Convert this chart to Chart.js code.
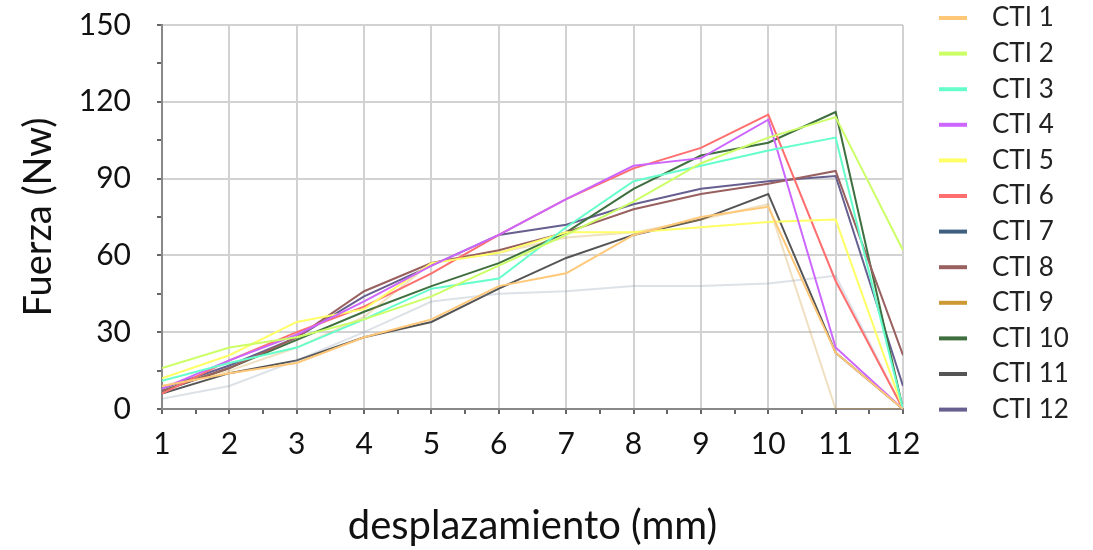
<!DOCTYPE html>
<html>
<head>
<meta charset="utf-8">
<script src="https://cdn.jsdelivr.net/npm/chart.js@4.4.1/dist/chart.umd.min.js"></script>
<style>
  html, body { margin: 0; padding: 0; background: #fff; }
  #wrap { width: 1093px; height: 550px; position: relative; }
</style>
</head>
<body>
<div id="wrap"><canvas id="chart"></canvas></div>
<script>
// desplazamiento (mm)
const xLabels = [1, 2, 3, 4, 5, 6, 7, 8, 9, 10, 11, 12];

// Fuerza (Nw) per specimen
const cti1  = [9, 14, 18, 28, 35, 48, 53, 68, 75, 79, 22, 0];
const cti2  = [16, 24, 28, 35, 44, 56, 68, 81, 96, 106, 114, 62];
const cti3  = [11, 18, 24, 35, 47, 51, 71, 89, 95, 101, 106, 0];
const cti4  = [8, 19, 29, 42, 56, 68, 82, 95, 98, 113, 24, 0];
const cti5  = [12, 21, 34, 39, 57, 61, 69, 69, 71, 73, 74, 0];
const cti6  = [6, 19, 30, 40, 53, 68, 82, 94, 102, 115, 50, 0];
const cti7  = [4, 9, 19, 30, 42, 45, 46, 48, 48, 49, 52, 0];
const cti8  = [7, 16, 28, 46, 57, 62, 69, 78, 84, 88, 93, 21];
const cti9  = [9, 15, 24, 36, 57, 61, 67, 69, 74, 80, 0, 0];
const cti10 = [7, 16, 27, 38, 48, 57, 69, 86, 99, 104, 116, 0];
const cti11 = [6, 14, 19, 28, 34, 47, 59, 68, 74, 84, 22, 0];
const cti12 = [8, 17, 28, 44, 56, 68, 72, 80, 86, 89, 91, 9];

const seriesNames = ['CTI 1', 'CTI 2', 'CTI 3', 'CTI 4', 'CTI 5', 'CTI 6',
                     'CTI 7', 'CTI 8', 'CTI 9', 'CTI 10', 'CTI 11', 'CTI 12'];
const seriesData = [cti1, cti2, cti3, cti4, cti5, cti6, cti7, cti8, cti9, cti10, cti11, cti12];

const legendColors = ['#FFC878', '#CCFF66', '#66FFCC', '#CC66FF', '#FFFF66', '#FF6F6F',
                      '#3F5F80', '#996060', '#CC9933', '#3F6F3F', '#555555', '#665F8F'];
const lineColors = ['#FFC878', '#CCFF66', '#66FFCC', '#CC66FF', '#FFFF66', '#FF6F6F',
                    'rgba(120,140,165,0.25)', '#996060', 'rgba(204,153,51,0.3)', '#3F6F3F', '#555555', '#665F8F'];

const FONT = 'Lato, "DejaVu Sans", sans-serif';

const sideLegend = {
    id: 'sideLegend',
    afterDraw(chart) {
        const ctx = chart.ctx;
        ctx.save();
        ctx.font = '26px ' + FONT;
        ctx.textBaseline = 'middle';
        ctx.textAlign = 'left';
        chart.data.datasets.forEach((ds, i) => {
            const y = 18 + i * 35.6;
            ctx.strokeStyle = legendColors[i];
            ctx.lineWidth = 4;
            ctx.beginPath();
            ctx.moveTo(939, y);
            ctx.lineTo(967, y);
            ctx.stroke();
            ctx.fillStyle = '#222';
            ctx.fillText(ds.label, 992, y);
        });
        ctx.restore();
    }
};

const datasets = seriesData.map((vals, i) => ({
    label: seriesNames[i],
    data: vals.map((v, j) => ({ x: xLabels[j], y: v })),
    borderColor: lineColors[i],
    backgroundColor: lineColors[i],
    borderWidth: 2,
    pointRadius: 0,
    tension: 0,
    fill: false
}));

new Chart(document.getElementById('chart'), {
    type: 'line',
    data: { datasets: datasets },
    plugins: [sideLegend],
    options: {
        responsive: true,
        maintainAspectRatio: false,
        animation: false,
        layout: { padding: { top: 25, right: 190, left: 0, bottom: 0 } },
        plugins: {
            legend: { display: false },
            tooltip: { enabled: false }
        },
        scales: {
            x: {
                type: 'linear',
                min: 1,
                max: 12,
                afterFit: (scale) => {
                    scale.height = 141;
                    scale.paddingLeft = 0;
                    scale.paddingRight = 0;
                },
                ticks: {
                    stepSize: 0.5,
                    autoSkip: false,
                    maxRotation: 0,
                    padding: 12,
                    color: '#111',
                    font: { family: FONT, size: 30 },
                    callback: (v) => Number.isInteger(v) ? String(v) : ''
                },
                grid: {
                    color: (c) => Number.isInteger(c.tick.value) ? '#d2d2d2' : 'rgba(0,0,0,0)',
                    tickColor: '#666',
                    tickLength: 5,
                    lineWidth: 2
                },
                border: { color: '#888', width: 2 },
                title: {
                    display: true,
                    text: 'desplazamiento (mm)',
                    color: '#111',
                    font: { family: FONT, size: 40 },
                    padding: { top: 7, bottom: 0 }
                }
            },
            y: {
                min: 0,
                max: 150,
                afterFit: (scale) => {
                    scale.width = 162;
                    scale.paddingTop = 0;
                    scale.paddingBottom = 0;
                },
                ticks: {
                    stepSize: 15,
                    autoSkip: false,
                    padding: 26,
                    color: '#111',
                    font: { family: FONT, size: 30 },
                    callback: (v) => v % 30 === 0 ? String(v) : ''
                },
                grid: {
                    color: (c) => c.tick.value % 30 === 0 ? '#d2d2d2' : 'rgba(0,0,0,0)',
                    tickColor: '#666',
                    tickLength: 5,
                    lineWidth: 2
                },
                border: { color: '#888', width: 2 },
                title: {
                    display: true,
                    text: 'Fuerza (Nw)',
                    color: '#111',
                    font: { family: FONT, size: 38 },
                    padding: { top: 16, bottom: 0 }
                }
            }
        }
    }
});
</script>
</body>
</html>
